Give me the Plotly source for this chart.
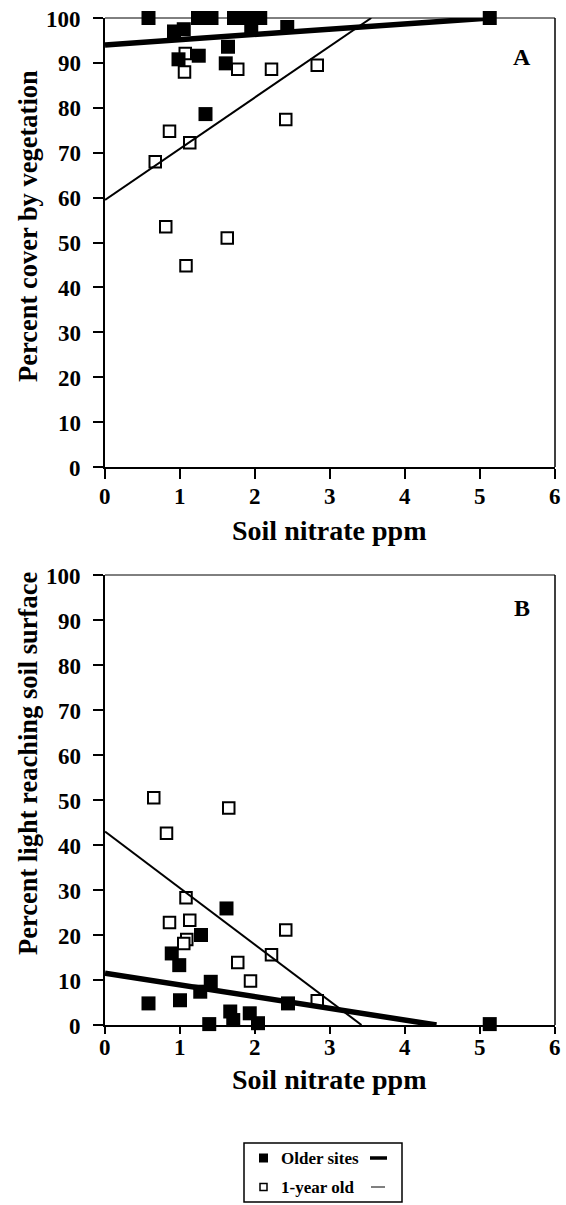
import plotly.graph_objects as go

# ---------------- data ----------------
# Panel A: percent cover by vegetation vs soil nitrate (ppm)
a_old_x = [0.58, 1.24, 1.42, 1.72, 1.90, 2.07, 1.95, 2.43, 5.13, 0.92, 1.05, 1.64, 1.25, 0.98, 1.61, 1.34]
a_old_y = [100, 100, 100, 100, 100, 100, 97.5, 98.0, 100, 97.0, 97.5, 93.6, 91.6, 90.8, 89.9, 78.6]
a_new_x = [1.07, 1.06, 1.77, 2.22, 2.83, 2.41, 0.86, 1.13, 0.67, 0.81, 1.63, 1.08]
a_new_y = [92.1, 88.0, 88.6, 88.6, 89.5, 77.4, 74.8, 72.2, 68.0, 53.5, 51.0, 44.8]
# regression lines, panel A (end points)
a_old_fit_x = [0, 5.13]
a_old_fit_y = [94.0, 100.0]
a_new_fit_x = [0, 3.55]
a_new_fit_y = [59.5, 100.0]

# Panel B: percent light reaching soil surface vs soil nitrate (ppm)
b_old_x = [1.62, 1.28, 0.89, 0.99, 1.41, 1.27, 0.58, 1.00, 1.67, 1.93, 1.71, 2.04, 1.39, 2.44, 5.13]
b_old_y = [25.9, 20.0, 15.9, 13.3, 9.6, 7.4, 4.8, 5.5, 3.0, 2.6, 1.1, 0.4, 0.2, 4.8, 0.2]
b_new_x = [0.65, 1.65, 0.82, 1.08, 0.86, 1.13, 1.09, 1.05, 2.41, 2.22, 1.77, 1.94, 2.83]
b_new_y = [50.5, 48.2, 42.6, 28.3, 22.8, 23.3, 19.0, 18.1, 21.1, 15.6, 13.9, 9.8, 5.4]
b_old_fit_x = [0, 4.42]
b_old_fit_y = [11.5, 0.0]
b_new_fit_x = [0, 3.42]
b_new_fit_y = [43.0, 0.0]

x_ticks = [0, 1, 2, 3, 4, 5, 6]
y_ticks = [0, 10, 20, 30, 40, 50, 60, 70, 80, 90, 100]

series_names = ["Older sites", "1-year old"]

# ---------------- layout helpers ----------------
W, H = 566, 1205
L, R, T, B = 105, 11, 18, 180
PW, PH = W - L - R, H - T - B


def px(x):
    return (x - L) / PW


def py(y):
    return (H - B - y) / PH


FONT = "Times New Roman, Liberation Serif, Times, serif"

fig = go.Figure()


def add_panel(xa, ya, old_x, old_y, new_x, new_y, ofx, ofy, nfx, nfy):
    fig.add_trace(go.Scatter(x=new_x, y=new_y, mode="markers", xaxis=xa, yaxis=ya,
                             marker=dict(symbol="square", size=11.5, color="white",
                                         line=dict(color="black", width=2)),
                             cliponaxis=False, showlegend=False, name=series_names[1]))
    fig.add_trace(go.Scatter(x=old_x, y=old_y, mode="markers", xaxis=xa, yaxis=ya,
                             marker=dict(symbol="square", size=14, color="black",
                                         line=dict(width=0)),
                             cliponaxis=False, showlegend=False, name=series_names[0]))
    fig.add_trace(go.Scatter(x=nfx, y=nfy, mode="lines", xaxis=xa, yaxis=ya,
                             line=dict(color="black", width=2),
                             cliponaxis=False, showlegend=False))
    fig.add_trace(go.Scatter(x=ofx, y=ofy, mode="lines", xaxis=xa, yaxis=ya,
                             line=dict(color="black", width=5.5),
                             cliponaxis=False, showlegend=False))


add_panel("x", "y", a_old_x, a_old_y, a_new_x, a_new_y,
          a_old_fit_x, a_old_fit_y, a_new_fit_x, a_new_fit_y)
add_panel("x2", "y2", b_old_x, b_old_y, b_new_x, b_new_y,
          b_old_fit_x, b_old_fit_y, b_new_fit_x, b_new_fit_y)

axis_common = dict(showgrid=False, zeroline=False, showline=True, linecolor="black",
                   linewidth=2.2, ticks="outside", tickwidth=1.5,
                   tickcolor="black", showticklabels=False)

xcommon = dict(axis_common, range=[0, 6], tickvals=x_ticks)
ycommon = dict(axis_common, range=[0, 100], tickvals=y_ticks, ticklen=10)

domA = [py(467), 1.0]
domB = [0.0, py(575)]

fig.update_layout(
    width=W, height=H,
    margin=dict(l=L, r=R, t=T, b=B),
    paper_bgcolor="white", plot_bgcolor="white",
    showlegend=False,
    font=dict(family=FONT, color="black"),
    xaxis=dict(xcommon, domain=[0, 1], anchor="y", ticklen=10),
    yaxis=dict(ycommon, domain=domA, anchor="x"),
    xaxis2=dict(xcommon, domain=[0, 1], anchor="y2", ticklen=7),
    yaxis2=dict(ycommon, domain=domB, anchor="x2"),
)

shapes = []
for xr, yr in (("x domain", "y domain"), ("x2 domain", "y2 domain")):
    shapes.append(dict(type="line", xref=xr, yref=yr, x0=0, x1=1, y0=1, y1=1,
                       line=dict(color="black", width=1)))
    shapes.append(dict(type="line", xref=xr, yref=yr, x0=1, x1=1, y0=0, y1=1,
                       line=dict(color="black", width=1.5)))

# legend box (drawn by hand, line sample after the label as in the original)
shapes.append(dict(type="rect", xref="paper", yref="paper",
                   x0=px(244), x1=px(402), y0=py(1202), y1=py(1143),
                   line=dict(color="black", width=1.5), fillcolor="white", layer="below"))
shapes.append(dict(type="rect", xref="paper", yref="paper",
                   x0=px(259), x1=px(268), y0=py(1162.5), y1=py(1153.5),
                   line=dict(color="black", width=0), fillcolor="black"))
shapes.append(dict(type="rect", xref="paper", yref="paper",
                   x0=px(260), x1=px(267), y0=py(1190.5), y1=py(1183.5),
                   line=dict(color="black", width=1.5), fillcolor="white"))
shapes.append(dict(type="line", xref="paper", yref="paper",
                   x0=px(370), x1=px(387), y0=py(1158), y1=py(1158),
                   line=dict(color="black", width=3.5)))
shapes.append(dict(type="line", xref="paper", yref="paper",
                   x0=px(371), x1=px(385), y0=py(1187), y1=py(1187),
                   line=dict(color="black", width=1)))

fig.update_layout(shapes=shapes)

tkfont = dict(family=FONT, size=23, color="black", weight="bold")
yfont = dict(family=FONT, size=26.5, color="black", weight="bold")
xfont = dict(family=FONT, size=28, color="black", weight="bold")
lfont = dict(family=FONT, size=17, color="black", weight="bold")
pfont = dict(family=FONT, size=24, color="black", weight="bold")

ann = []
# tick labels placed with the axes' own scales
for xa, ya, xshift_down in (("x", "y", 29), ("x2", "y2", 22)):
    for v in y_ticks:
        ann.append(dict(text="<b>%d</b>" % v, xref=xa, yref=ya, x=0, y=v,
                        xanchor="right", yanchor="middle", xshift=-22, yshift=-1,
                        showarrow=False, font=tkfont))
    for v in x_ticks:
        ann.append(dict(text="<b>%d</b>" % v, xref=xa, yref=ya, x=v, y=0,
                        xanchor="center", yanchor="middle", yshift=-xshift_down,
                        showarrow=False, font=tkfont))

ann += [
    dict(text="<b>Percent cover by vegetation</b>", xref="paper", yref="paper",
         x=px(28), y=py(226), textangle=-90, showarrow=False, font=yfont,
         xanchor="center", yanchor="middle"),
    dict(text="<b>Percent light reaching soil surface</b>", xref="paper", yref="paper",
         x=px(28), y=py(764), textangle=-90, showarrow=False, font=yfont,
         xanchor="center", yanchor="middle"),
    dict(text="<b>Soil nitrate ppm</b>", xref="paper", yref="paper",
         x=px(329), y=py(530), showarrow=False, font=xfont,
         xanchor="center", yanchor="middle"),
    dict(text="<b>Soil nitrate ppm</b>", xref="paper", yref="paper",
         x=px(329), y=py(1079), showarrow=False, font=xfont,
         xanchor="center", yanchor="middle"),
    dict(text="<b>A</b>", xref="x", yref="y", x=5.56, y=91.3, showarrow=False,
         font=pfont, xanchor="center", yanchor="middle"),
    dict(text="<b>B</b>", xref="x2", yref="y2", x=5.56, y=92.7, showarrow=False,
         font=pfont, xanchor="center", yanchor="middle"),
    dict(text="<b>%s</b>" % series_names[0], xref="paper", yref="paper", x=px(279), y=py(1158),
         showarrow=False, font=lfont, xanchor="left", yanchor="middle"),
    dict(text="<b>%s</b>" % series_names[1], xref="paper", yref="paper", x=px(279), y=py(1187),
         showarrow=False, font=lfont, xanchor="left", yanchor="middle"),
]
fig.update_layout(annotations=ann)

fig.write_html("out.html")
